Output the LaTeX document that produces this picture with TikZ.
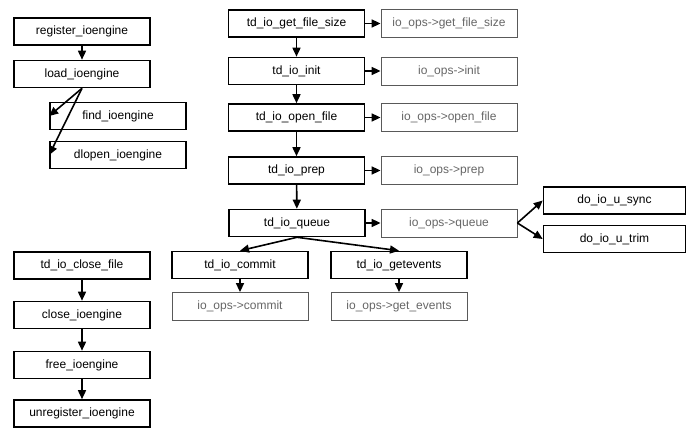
\documentclass[tikz,border=0pt]{standalone}
\usepackage{fontspec}
\setmainfont{Liberation Sans}
\usetikzlibrary{arrows.meta}

\begin{document}
\begin{tikzpicture}[x=1pt, y=-1pt, font=\fontsize{12}{14}\selectfont,
  fn/.style = {shape=rectangle, draw, line width=1.6pt, minimum width=136pt,
    minimum height=27pt, inner sep=0pt},
  op/.style = {shape=rectangle, draw=black!65, line width=0.8pt, text=black!60,
    minimum width=136pt, minimum height=28pt, inner sep=0pt},
  arr/.style = {-{Triangle[length=9pt,width=8pt]}, line width=1.6pt}]
  \useasboundingbox (0,0) rectangle (688,435);
  % engine setup
  \node[fn] (reg) at (82,31.5) {register\_ioengine};
  \node[fn] (load) at (82,74) {load\_ioengine};
  \node[fn] (find) at (118,116) {find\_ioengine};
  \node[fn] (dlopen) at (118,155) {dlopen\_ioengine};
  % io ops chain
  \node[fn] (size) at (296.5,23.5) {td\_io\_get\_file\_size};
  \node[fn] (init) at (296.5,71) {td\_io\_init};
  \node[fn] (open) at (296.5,117.5) {td\_io\_open\_file};
  \node[fn] (prep) at (296.5,170.5) {td\_io\_prep};
  \node[fn] (queue) at (297,223) {td\_io\_queue};
  \node[fn] (commit) at (240,265) {td\_io\_commit};
  \node[fn] (getev) at (399,265) {td\_io\_getevents};
  \node[op] (opsize) at (449,23.5) {io\_ops->get\_file\_size};
  \node[op] (opinit) at (449,71) {io\_ops->init};
  \node[op] (opopen) at (449,117.5) {io\_ops->open\_file};
  \node[op] (opprep) at (449,170.5) {io\_ops->prep};
  \node[op] (opqueue) at (449,223) {io\_ops->queue};
  \node[op] (opcommit) at (240,306.5) {io\_ops->commit};
  \node[op] (opgetev) at (399,306.5) {io\_ops->get\_events};
  \node[fn, minimum width=142pt] (sync) at (614.5,200.5) {do\_io\_u\_sync};
  \node[fn, minimum width=142pt] (trim) at (614.5,239) {do\_io\_u\_trim};
  % teardown
  \node[fn] (close) at (82,265.5) {td\_io\_close\_file};
  \node[fn] (closeng) at (82,315) {close\_ioengine};
  \node[fn] (free) at (82,365) {free\_ioengine};
  \node[fn] (unreg) at (82,413.5) {unregister\_ioengine};

  \draw[arr] (reg) -- (load);
  \draw[arr] (load.south) -- (find.west);
  \draw[arr] (load.south) -- (dlopen.west);
  \draw[arr] (size) -- (init);
  \draw[arr] (init) -- (open);
  \draw[arr] (open) -- (prep);
  \draw[arr] (prep) -- (queue);
  \draw[arr] (queue.south) -- (commit.north);
  \draw[arr] (queue.south) -- (getev.north);
  \draw[arr] (commit) -- (opcommit);
  \draw[arr] (getev) -- (opgetev);
  \draw[arr] (size) -- (opsize);
  \draw[arr] (init) -- (opinit);
  \draw[arr] (open) -- (opopen);
  \draw[arr] (prep) -- (opprep);
  \draw[arr] (queue) -- (opqueue);
  \draw[arr] (opqueue.east) -- (sync.west);
  \draw[arr] (opqueue.east) -- (trim.west);
  \draw[arr] (close) -- (closeng);
  \draw[arr] (closeng) -- (free);
  \draw[arr] (free) -- (unreg);
\end{tikzpicture}
\end{document}
